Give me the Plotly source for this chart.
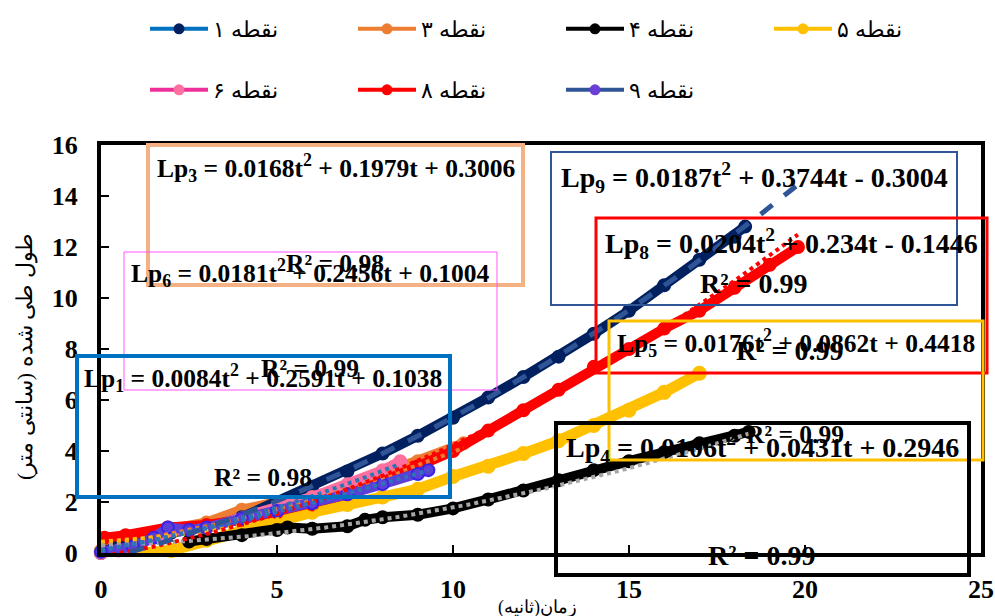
import numpy as np
import plotly.graph_objects as go

# ---------------- data ----------------
series_names = ["نقطه ۱", "نقطه ۳", "نقطه ۴", "نقطه ۵", "نقطه ۶", "نقطه ۸", "نقطه ۹"]

t_p1 = [0, 0.5, 1, 2, 3, 4, 5, 6, 7, 8, 9, 10, 11, 12, 13, 14, 15, 16, 17, 18, 18.3]
L_p1 = [0, 0.35, 0.6, 0.8, 1.0, 1.4, 2.0, 2.6, 3.2, 3.9, 4.6, 5.3, 6.1, 6.9, 7.7, 8.6, 9.5, 10.5, 11.5, 12.4, 12.8]

t_p3 = [0, 1, 2, 3, 4, 5, 6, 7, 8, 9, 10, 10.3]
L_p3 = [0.1, 0.5, 0.95, 1.2, 1.7, 2.0, 2.2, 2.6, 3.1, 3.6, 4.1, 4.3]

t_p4 = [2.5, 3, 4, 5, 5.3, 6, 7, 7.5, 8, 9, 10, 11, 12, 13, 14, 15, 16, 17, 18, 18.4]
L_p4 = [0.45, 0.55, 0.7, 0.9, 1.0, 0.95, 1.05, 1.3, 1.4, 1.5, 1.75, 2.1, 2.45, 2.85, 3.25, 3.6, 3.95, 4.3, 4.6, 4.75]

t_p5 = [0, 0.8, 2, 3, 4, 5, 6, 7, 8, 9, 10, 11, 12, 13, 14, 15, 16, 17]
L_p5 = [0.05, -0.05, 0.1, 0.5, 0.9, 1.25, 1.6, 1.9, 2.2, 2.5, 3.0, 3.4, 3.9, 4.4, 5.0, 5.6, 6.3, 7.05]

t_p6 = [0, 0.5, 1, 2, 3, 4, 5, 6, 7, 8, 8.5]
L_p6 = [0, 0.1, 0.3, 0.85, 1.0, 1.35, 1.8, 2.2, 2.7, 3.25, 3.6]

t_p8 = [0.1, 0.7, 1.9, 3, 4, 5, 6, 7, 8, 9, 10, 11, 12, 13, 14, 15, 16, 17, 18, 19, 19.8]
L_p8 = [0.6, 0.7, 1.0, 1.1, 1.3, 1.6, 1.9, 2.3, 2.8, 3.4, 4.0, 4.8, 5.6, 6.4, 7.3, 8.0, 8.8, 9.5, 10.4, 11.3, 12.0]

t_p9 = [0, 0.9, 1.5, 1.9, 2.5, 3, 4, 5, 6, 7, 8, 9, 9.3]
L_p9 = [0.05, 0.25, 0.6, 1.0, 0.9, 1.0, 1.35, 1.65, 1.95, 2.3, 2.7, 3.1, 3.25]

# fitted trendline coefficients (a t^2 + b t + c) as printed on the chart
coef_Lp1 = [0.0084, 0.2591, 0.1038]
coef_Lp3 = [0.0168, 0.1979, 0.3006]
coef_Lp4 = [0.0106, 0.0431, 0.2946]
coef_Lp5 = [0.0176, 0.0862, 0.4418]
coef_Lp6 = [0.0181, 0.2456, 0.1004]
coef_Lp8 = [0.0204, 0.234, -0.1446]
coef_Lp9 = [0.0187, 0.3744, -0.3004]

eq_labels = [
    "Lp<sub>3</sub> = 0.0168t<sup>2</sup> + 0.1979t + 0.3006",
    "Lp<sub>6</sub> = 0.0181t<sup>2</sup> + 0.2456t + 0.1004",
    "Lp<sub>1</sub> = 0.0084t<sup>2</sup> + 0.2591t + 0.1038",
    "Lp<sub>9</sub> = 0.0187t<sup>2</sup> + 0.3744t - 0.3004",
    "Lp<sub>8</sub> = 0.0204t<sup>2</sup> + 0.234t - 0.1446",
    "Lp<sub>5</sub> = 0.0176t<sup>2</sup> + 0.0862t + 0.4418",
    "Lp<sub>4</sub> = 0.0106t<sup>2</sup> + 0.0431t + 0.2946",
]
r2_labels = ["R² = 0.98", "R² = 0.99", "R² = 0.98", "R² = 0.99", "R² = 0.99", "R² = 0.99", "R² = 0.99"]

x_ticks = [0, 5, 10, 15, 20, 25]
y_ticks = [0, 2, 4, 6, 8, 10, 12, 14, 16]
x_title = "زمان(ثانیه)"
y_title = "طول طی شده (سانتی متر)"

# ---------------- styling ----------------
SERIF = "Times New Roman, Liberation Serif, DejaVu Serif, serif"
legend_line = ["#0070C0", "#ED7D31", "#000000", "#FFC000", "#F0309A", "#FF0000", "#2F5597"]
legend_marker = ["#002060", "#ED7D31", "#000000", "#FFC000", "#FF6FA0", "#FF0000", "#6A3FD8"]

fig = go.Figure()

data_sets = [
    (t_p3, L_p3, "#ED7D31", "#ED7D31", 10),
    (t_p5, L_p5, "#FFC000", "#FFC000", 11),
    (t_p4, L_p4, "#000000", "#000000", 10),
    (t_p1, L_p1, "#002060", "#002060", 10),
    (t_p6, L_p6, "#FF6FA0", "#FF6FA0", 10),
    (t_p8, L_p8, "#FF0000", "#FF0000", 10),
    (t_p9, L_p9, "#5B3FD6", "#3A22E6", 10),
]
for tt, LL, col, mline, w in data_sets:
    fig.add_trace(go.Scatter(
        x=tt, y=LL, mode="lines+markers", showlegend=False, cliponaxis=False,
        line=dict(color=col, width=w),
        marker=dict(color=col, size=w + 2, line=dict(color=mline, width=2)),
        hoverinfo="skip"))

trends = [
    (coef_Lp3, t_p3, "#ED7D31", "dot", 4, None),
    (coef_Lp5, t_p5, "#FFC000", "dot", 4, None),
    (coef_Lp4, t_p4, "#A6A6A6", "dot", 4, 0),
    (coef_Lp8, t_p8, "#FF0000", "dot", 4, None),
    (coef_Lp6, t_p6, "#2E75B6", "dot", 4, None),
    (coef_Lp1, t_p9, "#2E75B6", "dot", 4, None),
    (coef_Lp9, t_p1, "#2F5597", "dash", 5, None),
]
for coef, tt, col, dash, w, start in trends:
    t0 = tt[0] if start is None else start
    t1 = max(tt)
    if dash == "dash":
        t1 = t1 + 1.6
    ts = np.linspace(t0, t1, 120)
    fig.add_trace(go.Scatter(
        x=ts, y=np.polyval(coef, ts), mode="lines", showlegend=False,
        line=dict(color=col, width=w, dash=dash), hoverinfo="skip"))

# legend entries
for i, name in enumerate(series_names):
    fig.add_trace(go.Scatter(
        x=[None], y=[None], mode="lines+markers", name=name,
        line=dict(color=legend_line[i], width=4),
        marker=dict(color=legend_marker[i], size=11),
        legend="legend" if i < 4 else "legend2"))

# ---------------- layout helpers ----------------
L_PX, R_PX, T_PX, B_PX = 101, 981, 145, 553
W_PX, H_PX = R_PX - L_PX, B_PX - T_PX
def px(x):
    return (x - L_PX) / W_PX
def py(y):
    return (B_PX - y) / H_PX

boxes = [  # (x0,y0,x1,y1) px, color, width
    ((148, 145, 523, 285), "#F4B183", 4),
    ((124, 252, 497, 390), "#FF55FF", 1),
    ((77, 356, 450, 497), "#0070C0", 4),
    ((551, 152, 957, 305), "#2F5597", 2),
    ((596, 218, 987, 373), "#FF0000", 3),
    ((609, 321, 983, 460), "#FFC000", 3),
    ((556, 423, 969, 575), "#000000", 4),
]
shapes = []
for (x0, y0, x1, y1), col, w in boxes:
    shapes.append(dict(type="rect", xref="paper", yref="paper",
                       x0=px(x0), x1=px(x1), y0=py(y1), y1=py(y0),
                       line=dict(color=col, width=w), layer="above"))

eq_pos = [(336, 168), (310, 273), (263, 378), (754, 177), (791, 243), (796, 343), (762, 447)]
r2_pos = [(335, 263), (310, 368), (263, 477), (754, 283), (790, 350), (795, 435), (762, 555)]
eq_size = [25.5, 25.5, 25.5, 28, 28, 25.5, 28]
annotations = []
for lab, (x, y), s in zip(eq_labels, eq_pos, eq_size):
    annotations.append(dict(text="<b>" + lab + "</b>", x=px(x), y=py(y), xref="paper", yref="paper",
                            showarrow=False, xanchor="center", yanchor="middle",
                            font=dict(family=SERIF, size=s, color="black")))
for lab, (x, y), s in zip(r2_labels, r2_pos, eq_size):
    annotations.append(dict(text="<b>" + lab + "</b>", x=px(x), y=py(y), xref="paper", yref="paper",
                            showarrow=False, xanchor="center", yanchor="middle",
                            font=dict(family=SERIF, size=s, color="black")))
annotations.append(dict(text=y_title, x=px(25), y=py(357), xref="paper", yref="paper",
                        showarrow=False, textangle=-90, xanchor="center", yanchor="middle",
                        font=dict(family=SERIF, size=22, color="black")))
annotations.append(dict(text=x_title, x=px(537), y=py(607), xref="paper", yref="paper",
                        showarrow=False, xanchor="center", yanchor="middle",
                        font=dict(family=SERIF, size=18, color="black")))

axis_common = dict(showgrid=False, zeroline=False, showline=True, linecolor="black", linewidth=4,
                   mirror=True, ticks="inside", ticklen=8, tickwidth=2, tickcolor="black",
                   tickfont=dict(family=SERIF, size=26, color="black", weight="bold"))

legend_common = dict(orientation="h", xanchor="left", yanchor="middle",
                     itemwidth=58, entrywidth=135, entrywidthmode="pixels", traceorder="normal",
                     font=dict(family=SERIF, size=22, color="black"), bgcolor="rgba(0,0,0,0)")

fig.update_layout(
    width=995, height=616,
    margin=dict(l=L_PX, r=995 - R_PX, t=T_PX, b=616 - B_PX, autoexpand=False),
    paper_bgcolor="white", plot_bgcolor="white",
    xaxis=dict(range=[0, 25], tickvals=x_ticks, ticklabelstandoff=10, **axis_common),
    yaxis=dict(range=[0, 16], tickvals=y_ticks, ticklabelstandoff=14, **axis_common),
    shapes=shapes, annotations=annotations,
    legend=dict(x=px(145), y=py(29), **legend_common),
    legend2=dict(x=px(145), y=py(90), **legend_common),
)

fig.write_html("out.html")
